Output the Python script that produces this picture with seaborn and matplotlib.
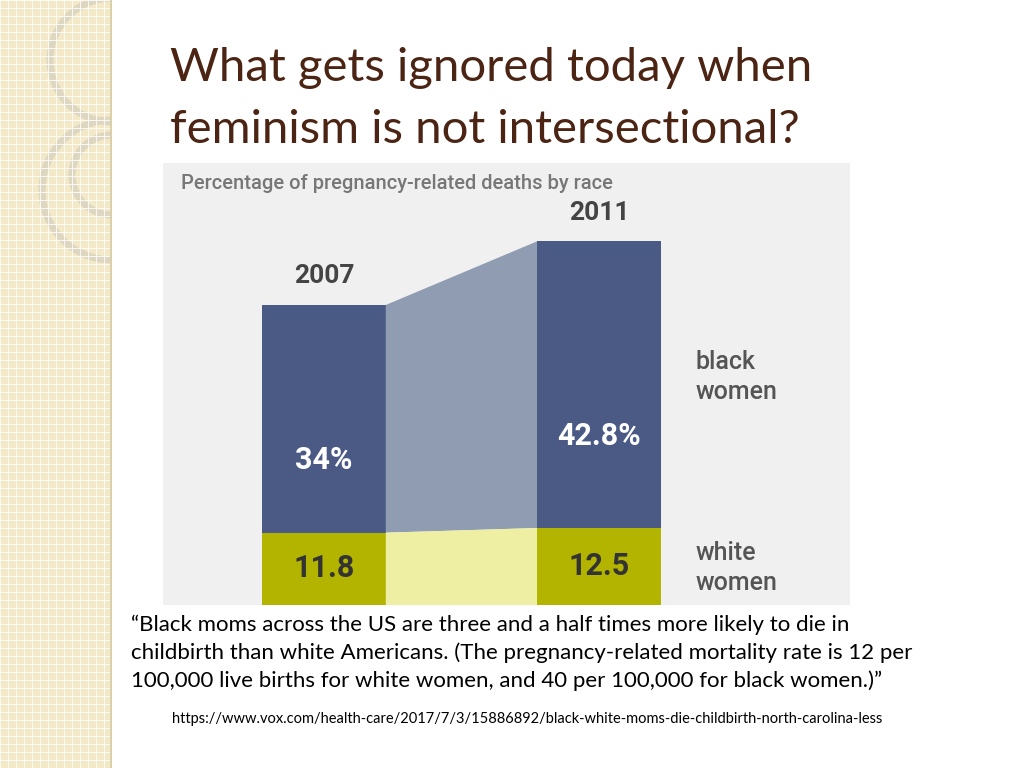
import matplotlib
matplotlib.use("Agg")
import matplotlib.pyplot as plt
import matplotlib.patches as mpatches
import numpy as np
import pandas as pd
import seaborn as sns

years = ["2007", "2011"]
black_pct = [34.0, 42.8]
white_pct = [11.8, 12.5]
black_labels = ["34%", "42.8%"]
white_labels = ["11.8", "12.5"]

W, H = 1024, 768
fig = plt.figure(figsize=(W / 100, H / 100), dpi=100)
fig.patch.set_facecolor("white")

# decorative left strip
deco = fig.add_axes([0, 0, 112 / W, 1])
deco.set_xlim(0, 112)
deco.set_ylim(768, 0)
deco.axis("off")
deco.add_patch(mpatches.Rectangle((0, 0), 112, 768, color="#f3e9c6"))
for v in np.arange(0, 112, 8):
    deco.axvline(v, color="white", lw=0.8, alpha=0.8)
for h in np.arange(0, 768, 8):
    deco.axhline(h, color="white", lw=0.8, alpha=0.8)
deco.axvline(111, color="#d9cfa8", lw=2)
for cx, cy, r in [(112, 60, 62), (112, 190, 70), (112, 175, 40)]:
    deco.add_patch(mpatches.Circle((cx, cy), r, fill=False, ec="#ddd6c0", lw=5))

fig.text(170 / W, 1 - 68 / H, "What gets ignored today when", fontsize=34,
         family="Lato", color="#4b2413", va="center")
fig.text(170 / W, 1 - 130 / H, "feminism is not intersectional?", fontsize=34,
         family="Lato", color="#4b2413", va="center")

# chart
ax = fig.add_axes([163 / W, 1 - 605 / H, 687 / W, 442 / H])
ax.set_facecolor("#f0f0f0")
df = pd.DataFrame({"year": years, "total": np.add(black_pct, white_pct),
                   "white": white_pct})
sns.barplot(data=df, x="year", y="total", color="#4a5a85", width=0.45,
            saturation=1, ax=ax)
sns.barplot(data=df, x="year", y="white", color="#b3b400", width=0.45,
            saturation=1, ax=ax)
ax.set_xlim(-0.585, 1.913)
ax.set_ylim(1, 67)
ax.set_xlabel("")
ax.set_ylabel("")
ax.set_xticks([])
ax.set_yticks([])
for s in ax.spines.values():
    s.set_visible(False)

tot = df["total"].values
x0, x1 = 0.225, 0.775
ax.fill([x0, x1, x1, x0], [white_pct[0], white_pct[1], tot[1], tot[0]],
        color="#8f9cb2", lw=0)
ax.fill([x0, x1, x1, x0], [1, 1, white_pct[1], white_pct[0]],
        color="#eeefa3", lw=0)

font = dict(family="Roboto", fontweight="bold")
for i in range(2):
    ax.text(i, tot[i] + 2.5, years[i], ha="center", va="bottom",
            fontsize=19, color="#444444", **font)
    ax.text(i, white_pct[i] + black_pct[i] * 0.32, black_labels[i], ha="center",
            va="center", fontsize=22, color="white", **font)
    ax.text(i, white_pct[i] / 2 + 0.6, white_labels[i], ha="center",
            va="center", fontsize=22, color="#333333", **font)
ax.text(1.35, 35, "black\nwomen", fontsize=18, color="#555555", va="center",
        linespacing=1.3, family="Roboto", fontweight="medium")
ax.text(1.35, 6.5, "white\nwomen", fontsize=18, color="#555555", va="center",
        linespacing=1.3, family="Roboto", fontweight="medium")
ax.text(-0.52, 64, "Percentage of pregnancy-related deaths by race",
        fontsize=14.5, color="#777777", va="center", family="Roboto",
        fontweight="medium")

quote = ("\u201cBlack moms across the US are three and a half times more likely to die in\n"
         "childbirth than white Americans. (The pregnancy-related mortality rate is 12 per\n"
         "100,000 live births for white women, and 40 per 100,000 for black women.)\u201d")
fig.text(131 / W, 1 - 653 / H, quote, fontsize=16, family="Lato",
         color="black", va="center", linespacing=1.45)
fig.text(172 / W, 1 - 719 / H,
         "https://www.vox.com/health-care/2017/7/3/15886892/black-white-moms-die-childbirth-north-carolina-less",
         fontsize=10.5, family="Lato", color="black", va="center")

fig.savefig("out.png", dpi=100)
